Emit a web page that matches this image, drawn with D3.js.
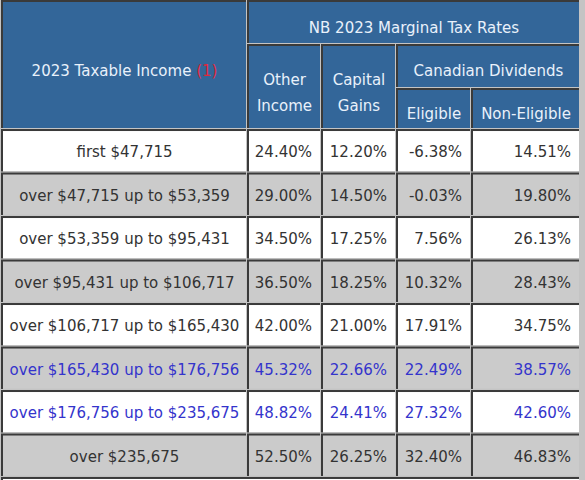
<!DOCTYPE html>
<html>
<head>
<meta charset="utf-8">
<script src="https://cdn.jsdelivr.net/npm/d3@7"></script>
<style>
  html, body { margin: 0; padding: 0; background: #c4c4c4; }
  svg { display: block; }
  text { font-family: "DejaVu Sans", Verdana, sans-serif; font-size: 15px; }
</style>
</head>
<body>
<div id="chart"></div>
<script>
// ---------- data ----------
const brackets = [
  "first $47,715",
  "over $47,715 up to $53,359",
  "over $53,359 up to $95,431",
  "over $95,431 up to $106,717",
  "over $106,717 up to $165,430",
  "over $165,430 up to $176,756",
  "over $176,756 up to $235,675",
  "over $235,675"
];
const otherIncome  = [24.40, 29.00, 34.50, 36.50, 42.00, 45.32, 48.82, 52.50];
const capitalGains = [12.20, 14.50, 17.25, 18.25, 21.00, 22.66, 24.41, 26.25];
const eligibleDiv  = [-6.38, -0.03, 7.56, 10.32, 17.91, 22.49, 27.32, 32.40];
const nonEligibleDiv = [14.51, 19.80, 26.13, 28.43, 34.75, 38.57, 42.60, 46.83];
const highlightRows = [5, 6];   // rows shown in blue text

const titleIncome = "2023 Taxable Income ";
const titleNote = "(1)";
const titleRates = "NB 2023 Marginal Tax Rates";
const colOther = ["Other", "Income"];
const colCap = ["Capital", "Gains"];
const titleDiv = "Canadian Dividends";
const colElig = "Eligible";
const colNonElig = "Non-Eligible";

// ---------- layout ----------
const W = 585, H = 480;
const colEdges = {            // interior cell extents
  c0: [3, 246], c1: [249, 320], c2: [323, 395], c3: [398, 470], c4: [473, 579]
};
const headerY = { top: 2, aBottom: 43, bTop: 46, bBottom: 87, cTop: 90, bottom: 128 };
const rowScale = d3.scaleBand()
  .domain(d3.range(brackets.length))
  .range([129.5, 477.5])
  .paddingInner(0.07)
  .paddingOuter(0.035);

const fmt = v => (v < 0 ? "-" : "") + d3.format(".2f")(Math.abs(v)) + "%";

const svg = d3.select("#chart").append("svg")
  .attr("width", W).attr("height", H);

svg.append("rect").attr("width", W).attr("height", H).attr("fill", "#c4c4c4");

const cellLayer = svg.append("g");
const textLayer = svg.append("g");

function cell(x0, x1, y0, y1, fill) {
  cellLayer.append("rect")
    .attr("x", x0 - 2).attr("y", y0 - 2)
    .attr("width", x1 - x0 + 2).attr("height", y1 - y0 + 2)
    .attr("fill", "#3a3a3a");
  cellLayer.append("rect")
    .attr("x", x0).attr("y", y0)
    .attr("width", x1 - x0).attr("height", y1 - y0)
    .attr("fill", fill);
}

const headBg = "#336699";
const headFg = "#e9f1fb";

// header cells
cell(colEdges.c0[0], colEdges.c0[1], headerY.top, headerY.bottom, headBg);
cell(colEdges.c1[0], colEdges.c4[1], headerY.top, headerY.aBottom, headBg);
cell(colEdges.c1[0], colEdges.c1[1], headerY.bTop, headerY.bottom, headBg);
cell(colEdges.c2[0], colEdges.c2[1], headerY.bTop, headerY.bottom, headBg);
cell(colEdges.c3[0], colEdges.c4[1], headerY.bTop, headerY.bBottom, headBg);
cell(colEdges.c3[0], colEdges.c3[1], headerY.cTop, headerY.bottom, headBg);
cell(colEdges.c4[0], colEdges.c4[1], headerY.cTop, headerY.bottom, headBg);

const mid = k => (colEdges[k][0] + colEdges[k][1]) / 2;

function htext(x, y, s) {
  return textLayer.append("text").attr("x", x).attr("y", y)
    .attr("text-anchor", "middle").attr("fill", headFg).text(s);
}
const t0 = textLayer.append("text").attr("x", mid("c0")).attr("y", 76)
  .attr("text-anchor", "middle").attr("fill", headFg);
t0.append("tspan").text(titleIncome);
t0.append("tspan").attr("fill", "#e0283c").text(titleNote);

htext((colEdges.c1[0] + colEdges.c4[1]) / 2, 33, titleRates);
htext(mid("c1"), 85, colOther[0]);
htext(mid("c1"), 111, colOther[1]);
htext(mid("c2"), 85, colCap[0]);
htext(mid("c2"), 111, colCap[1]);
htext((colEdges.c3[0] + colEdges.c4[1]) / 2, 76, titleDiv);
htext(mid("c3"), 119, colElig);
htext(mid("c4"), 119, colNonElig);

// body
const rows = brackets.map((b, i) => ({
  i, bracket: b,
  vals: [otherIncome[i], capitalGains[i], eligibleDiv[i], nonEligibleDiv[i]]
}));
const valueCols = ["c1", "c2", "c3", "c4"];

rows.forEach(r => {
  const y0 = rowScale(r.i), y1 = y0 + rowScale.bandwidth();
  const fill = r.i % 2 === 1 ? "#cbcbcb" : "#ffffff";
  const color = highlightRows.includes(r.i) ? "#3434cc" : "#333333";
  const base = (y0 + y1) / 2 + 6;
  cell(colEdges.c0[0], colEdges.c0[1], y0, y1, fill);
  textLayer.append("text").attr("x", mid("c0")).attr("y", base)
    .attr("text-anchor", "middle").attr("fill", color).text(r.bracket);
  r.vals.forEach((v, j) => {
    const k = valueCols[j];
    cell(colEdges[k][0], colEdges[k][1], y0, y1, fill);
    textLayer.append("text").attr("x", colEdges[k][1] - 8).attr("y", base)
      .attr("text-anchor", "end").attr("fill", color).text(fmt(v));
  });
});

// start of the following (footnote) row
const lastBottom = rowScale(brackets.length - 1) + rowScale.bandwidth();
cell(colEdges.c0[0], colEdges.c4[1], lastBottom + 3, H + 20, "#ffffff");
</script>
</body>
</html>
